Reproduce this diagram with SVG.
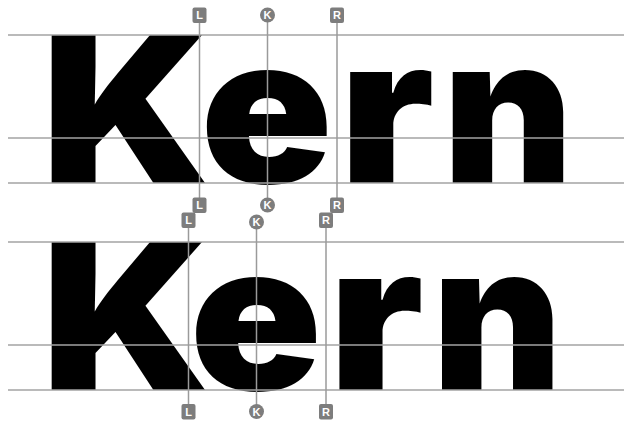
<svg xmlns="http://www.w3.org/2000/svg" width="624" height="426" viewBox="0 0 624 426">
<style>
.guide{stroke:#a3a3a3;stroke-width:1.5}
.vline{stroke:#9a9a9a;stroke-width:1.5}
.badge{fill:#7d7d7d}
.bl{font-family:"Liberation Sans",Arial,sans-serif;font-weight:bold;font-size:11px;fill:#fff;text-anchor:middle}
.w{font-family:Inter,sans-serif;font-weight:900;font-size:204px;fill:#000}
</style>
<rect width="624" height="426" fill="#fff"/>
<g id="word-unkerned">
<text class="w" x="42" y="183" transform="matrix(1.09,0,0,1,-4.5,0)">K</text>
<text class="w" x="199" y="183" transform="matrix(1.072,0,0,1,-13.06,0)">e</text>
<text class="w" x="341" y="183" transform="matrix(1.077,0,0,1,-27.95,0)">r</text>
<text class="w" x="443" y="183" transform="matrix(0.985,0,0,1,6.5,0)">n</text>
</g>
<g id="word-kerned">
<text class="w" x="42" y="390" transform="matrix(1.09,0,0,1,-4.5,0)">K</text>
<text class="w" x="199" y="390" transform="matrix(1.072,0,0,1,-23.86,0)">e</text>
<text class="w" x="341" y="390" transform="matrix(1.077,0,0,1,-38.75,0)">r</text>
<text class="w" x="443" y="390" transform="matrix(0.985,0,0,1,-4.3,0)">n</text>
</g>
<g id="connectors">
<line class="guide" x1="8" y1="35" x2="624" y2="35"/>
<line class="guide" x1="8" y1="138" x2="624" y2="138"/>
<line class="guide" x1="8" y1="183" x2="624" y2="183"/>
<line class="guide" x1="8" y1="242" x2="624" y2="242"/>
<line class="guide" x1="8" y1="345" x2="624" y2="345"/>
<line class="guide" x1="8" y1="390" x2="624" y2="390"/>
<line class="vline" x1="199.5" y1="22" x2="199.5" y2="198"/>
<line class="vline" x1="267.5" y1="22" x2="267.5" y2="198"/>
<line class="vline" x1="337" y1="22" x2="337" y2="198"/>
<line class="vline" x1="188.5" y1="227" x2="188.5" y2="405"/>
<line class="vline" x1="256.5" y1="227" x2="256.5" y2="405"/>
<line class="vline" x1="326" y1="227" x2="326" y2="405"/>
</g>
<g id="marker-L1-top"><rect class="badge" x="192.5" y="7.5" width="14" height="15.5" rx="2"/><text class="bl" x="199.5" y="19">L</text></g>
<g id="marker-K1-top"><circle class="badge" cx="267.5" cy="15" r="7.5"/><text class="bl" x="267.5" y="19">K</text></g>
<g id="marker-R1-top"><rect class="badge" x="330" y="7.5" width="14" height="15.5" rx="2"/><text class="bl" x="337" y="19">R</text></g>
<g id="marker-L1-bottom"><rect class="badge" x="192.5" y="197.5" width="14" height="15.5" rx="2"/><text class="bl" x="199.5" y="209">L</text></g>
<g id="marker-K1-bottom"><circle class="badge" cx="267.5" cy="205" r="7.5"/><text class="bl" x="267.5" y="209">K</text></g>
<g id="marker-R1-bottom"><rect class="badge" x="330" y="197.5" width="14" height="15.5" rx="2"/><text class="bl" x="337" y="209">R</text></g>
<g id="marker-L2-top"><rect class="badge" x="181.5" y="212.5" width="14" height="15.5" rx="2"/><text class="bl" x="188.5" y="224">L</text></g>
<g id="marker-K2-top"><circle class="badge" cx="256.5" cy="222" r="7.5"/><text class="bl" x="256.5" y="226">K</text></g>
<g id="marker-R2-top"><rect class="badge" x="319" y="212.5" width="14" height="15.5" rx="2"/><text class="bl" x="326" y="224">R</text></g>
<g id="marker-L2-bottom"><rect class="badge" x="181.5" y="404" width="14" height="15.5" rx="2"/><text class="bl" x="188.5" y="415.5">L</text></g>
<g id="marker-K2-bottom"><circle class="badge" cx="256.5" cy="411.5" r="7.5"/><text class="bl" x="256.5" y="415.5">K</text></g>
<g id="marker-R2-bottom"><rect class="badge" x="319" y="404" width="14" height="15.5" rx="2"/><text class="bl" x="326" y="415.5">R</text></g>
</svg>
